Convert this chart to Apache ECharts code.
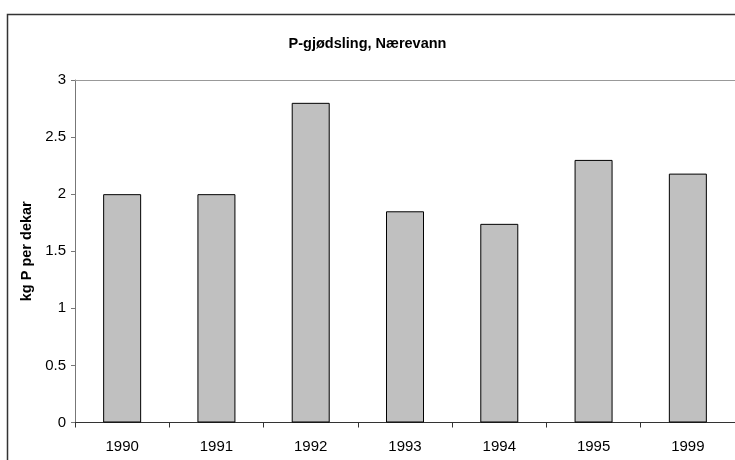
<!DOCTYPE html>
<html>
<head>
<meta charset="utf-8">
<style>
  html, body { margin: 0; padding: 0; background: #fff; }
  #chart { width: 735px; height: 460px; }
</style>
<script src="https://cdn.jsdelivr.net/npm/echarts@6/dist/echarts.min.js"></script>
</head>
<body>
<div id="chart"></div>
<script>
// 数据：年份与每年的 P 施肥量（kg P per dekar）
const years = ['1990', '1991', '1992', '1993', '1994', '1995', '1999'];
const pValues = [2.0, 2.0, 2.8, 1.85, 1.74, 2.3, 2.18];
const yTicks = { min: 0, max: 3, interval: 0.5 };

const FONT = '"Liberation Sans", Arial, sans-serif';

const chart = echarts.init(document.getElementById('chart'), null, { renderer: 'canvas' });

const options = {
  animation: false,
  backgroundColor: '#fff',
  textStyle: { fontFamily: FONT },
  title: {
    text: 'P-gjødsling, Nærevann',
    left: 'center',
    top: 31,
    textStyle: { fontFamily: FONT, fontSize: 14.5, fontWeight: 'bold', color: '#000' }
  },
  // 外框
  graphic: [{
    type: 'rect',
    shape: { x: 7.5, y: 14.5, width: 800, height: 500 },
    style: { fill: 'none', stroke: '#333', lineWidth: 1.5 },
    silent: true
  }],
  grid: { left: 75, top: 80, width: 663, height: 342.5 },
  xAxis: {
    type: 'category',
    data: years,
    axisLine: { show: true, lineStyle: { color: '#333', width: 1 } },
    axisTick: { show: true, alignWithLabel: false, length: 5, lineStyle: { color: '#333' } },
    axisLabel: { color: '#000', fontSize: 15, fontFamily: FONT, margin: 16.5 },
    splitLine: { show: false }
  },
  yAxis: {
    type: 'value',
    min: yTicks.min,
    max: yTicks.max,
    interval: yTicks.interval,
    name: 'kg P per dekar',
    nameLocation: 'middle',
    nameGap: 36,
    nameRotate: 90,
    nameTextStyle: { fontFamily: FONT, fontSize: 14.5, fontWeight: 'bold', color: '#000' },
    axisLine: { show: true, lineStyle: { color: '#777', width: 1 } },
    axisTick: { show: true, length: 4, lineStyle: { color: '#777' } },
    axisLabel: { color: '#000', fontSize: 15, fontFamily: FONT, margin: 9 },
    splitLine: { show: false }
  },
  series: [{
    type: 'bar',
    data: pValues,
    barWidth: 38,
    itemStyle: { color: '#C0C0C0', borderColor: '#000', borderWidth: 1 },
    // 顶部 3 处的灰色网格线
    markLine: {
      silent: true,
      symbol: 'none',
      label: { show: false },
      lineStyle: { color: '#999', type: 'solid', width: 1 },
      data: [{ yAxis: 3 }]
    }
  }]
};

chart.setOption(options);
</script>
</body>
</html>
